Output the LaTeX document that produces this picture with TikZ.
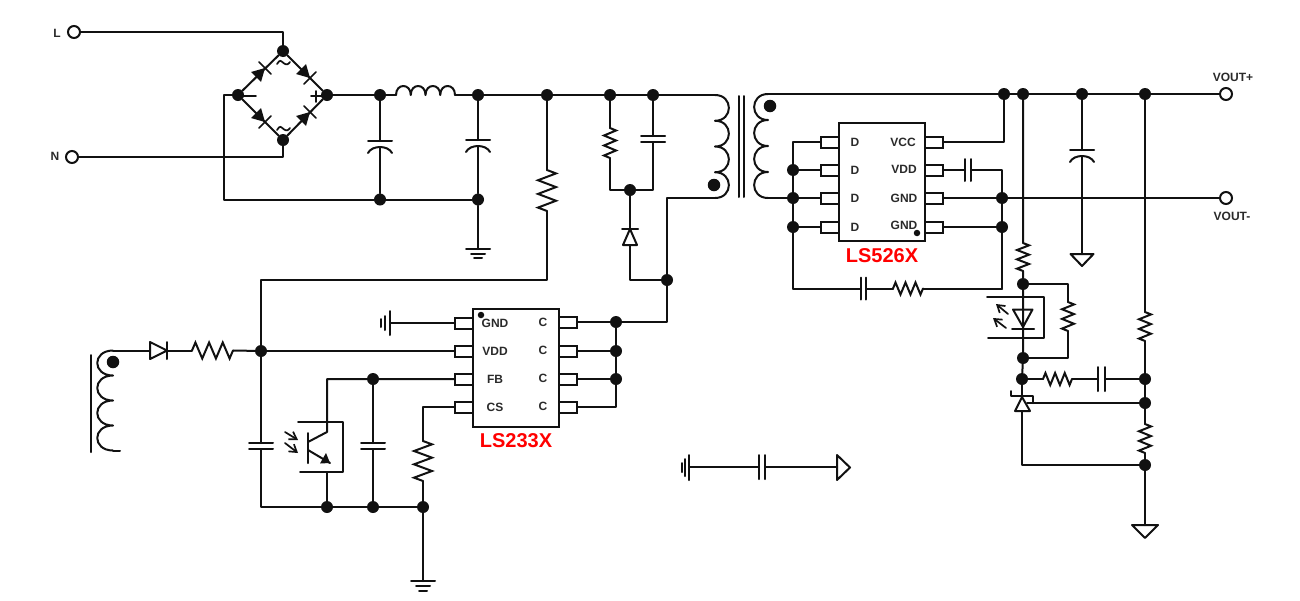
\documentclass[tikz,border=0pt]{standalone}
\usepackage{fontspec}
\setmainfont{Liberation Sans}
\usetikzlibrary{calc,arrows.meta}
\definecolor{ink}{HTML}{111111}
\definecolor{lbl}{HTML}{2A2A2A}
\tikzset{
  wire/.style={draw=ink,line width=2pt,line cap=round,line join=round},
  thin wire/.style={draw=ink,line width=1.7pt,line cap=round},
  jn/.style={circle,fill=ink,draw=none,inner sep=0pt,minimum size=12pt},
  mark dot/.style={circle,fill=ink,draw=none,inner sep=0pt,minimum size=12.5pt},
  small dot/.style={circle,fill=ink,draw=none,inner sep=0pt,minimum size=6.5pt},
  term/.style={circle,draw=ink,line width=2pt,fill=white,inner sep=0pt,minimum size=12pt},
  chip/.style={rectangle,draw=ink,line width=2pt,fill=white,inner sep=0pt,minimum width=86pt,minimum height=118pt},
  icpin/.style={rectangle,draw=ink,line width=2pt,fill=white,inner sep=0pt,minimum width=18pt,minimum height=11pt},
  pintext/.style={font=\bfseries\fontsize{12}{12}\selectfont,text=lbl,inner sep=0pt},
  partname/.style={font=\bfseries\fontsize{20}{20}\selectfont,text=red,inner sep=0pt},
  termtext/.style={font=\bfseries\fontsize{12}{12}\selectfont,text=lbl,inner sep=0pt},
  barb/.style={thin wire,-{Straight Barb[length=7pt,width=9pt]}},
}
% resistor between two named points
\newcommand\resis[3][9pt]{\draw[wire,line join=miter]
  (#2) -- ($(#2)!.0833!(#3)!#1!90:(#3)$) -- ($(#2)!.25!(#3)!-#1!90:(#3)$)
  -- ($(#2)!.4167!(#3)!#1!90:(#3)$) -- ($(#2)!.5833!(#3)!-#1!90:(#3)$)
  -- ($(#2)!.75!(#3)!#1!90:(#3)$) -- ($(#2)!.9167!(#3)!-#1!90:(#3)$) -- (#3);}
% plain capacitor between two named plate centres
\newcommand\capac[3][12pt]{\draw[wire]
  ($(#2)!#1!90:(#3)$) -- ($(#2)!#1!-90:(#3)$)
  ($(#3)!#1!90:(#2)$) -- ($(#3)!#1!-90:(#2)$);}
% polarised capacitor: flat plate at a, curved plate with its crown at b
\newcommand\polcap[2]{\draw[wire] (#1)++(-12,0) -- ++(24,0);
  \draw[wire] (#2)++(-12,6) .. controls +(4,-8) and +(-4,-8) .. ++(24,0);}
% four-hump winding
\newcommand\wind[5]{\draw[wire] (#1)
  .. controls +(#2,#3) and +(#2,#3) .. ++(#4,#5)
  .. controls +(#2,#3) and +(#2,#3) .. ++(#4,#5)
  .. controls +(#2,#3) and +(#2,#3) .. ++(#4,#5)
  .. controls +(#2,#3) and +(#2,#3) .. ++(#4,#5);}
% bridge diode
\newcommand\bdiode[4]{\begin{scope}[shift={(#1,#2)},xscale=#3,yscale=#4]
  \fill[ink] (5,5) -- (1,-9) -- (-9,1) -- cycle;
  \draw[thin wire] (11,-1) -- (-1,11);
\end{scope}}
\begin{document}
\begin{tikzpicture}[x=1pt,y=-1pt]
\useasboundingbox (0,0) rectangle (1300,600);
\fill[white] (0,0) rectangle (1300,600);

% ---------- input terminals and bridge ----------
\node[term] (tL) at (74,32) {};
\node[term] (tN) at (72,157) {};
\node[termtext] (lL) at (57,33) {L};
\node[termtext] (lN) at (55,156) {N};
\node[jn] (bT) at (283,51) {};
\node[jn] (bL) at (238,95) {};
\node[jn] (bR) at (327,95) {};
\node[jn] (bB) at (283,140) {};
\draw[wire] (tL) -| (bT);
\draw[wire] (tN) -| (bB);
\draw[wire] (bT) -- (bL) -- (bB) -- (bR) -- (bT);
\bdiode{260}{73}{1}{-1}
\bdiode{305}{73}{1}{1}
\bdiode{260}{117}{1}{1}
\bdiode{305}{117}{1}{-1}
\draw[thin wire] (277,64) .. controls (280,59) and (281,61) .. (283.5,63) .. controls (286,65) and (288,65) .. (290,62);
\draw[thin wire] (277,130) .. controls (280,125) and (281,127) .. (283.5,129) .. controls (286,131) and (288,131) .. (290,128);
\draw[thin wire] (243,96) -- (256,96);
\draw[thin wire] (311,96) -- (322,96) (316,91) -- (316,102);

% ---------- input filter ----------
\node[jn] (c1t) at (380,95) {};
\node[jn] (c1b) at (380,199.5) {};
\node[jn] (c2t) at (478,95) {};
\node[jn] (c2b) at (478,199.5) {};
\coordinate (gA) at (224,95);
\coordinate (gB) at (224,199.5);
\coordinate (indA) at (396,95);
\coordinate (indB) at (455,95);
\coordinate (c1p) at (380,141);
\coordinate (c1q) at (380,147);
\coordinate (c2p) at (478,140);
\coordinate (c2q) at (478,146);
\coordinate (g1) at (478,249);
\draw[wire] (bR) -- (c1t) -- (indA);
\wind{indA}{0}{-12}{14.75}{0}
\draw[wire] (indB) -- (c2t);
\draw[wire] (bL) -- (gA) -- (gB) -- (c1b) -- (c2b);
\draw[wire] (c1t) -- (c1p) (c1q) -- (c1b);
\polcap{c1p}{c1q}
\draw[wire] (c2t) -- (c2p) (c2q) -- (c2b) -- (g1);
\polcap{c2p}{c2q}
\draw[wire] (g1)++(-12,0) -- ++(24,0) (g1)++(-7,4.5) -- ++(14,0) (g1)++(-4,9) -- ++(8,0);

% ---------- bus, snubber ----------
\node[jn] (r1t) at (547,95) {};
\node[jn] (s1) at (610,95) {};
\node[jn] (s2) at (653,95) {};
\coordinate (pTop) at (715,95);
\coordinate (pBot) at (715,198);
\draw[wire] (c2t) -- (r1t) -- (s1) -- (s2) -- (pTop);
\wind{pTop}{18.5}{0}{0}{25.75}
\node[mark dot] (pDot) at (714,185) {};
\draw[wire] (739,96) -- (739,197) (744,96) -- (744,197);
\coordinate (r1a) at (547,170);
\coordinate (r1b) at (547,211);
\resis{r1a}{r1b}
\coordinate (r1c) at (547,280);
\node[jn] (vN) at (261,351) {};
\coordinate (vT) at (261,280);
\draw[wire] (r1t) -- (r1a) (r1b) -- (r1c) -- (vT) -- (vN);

\coordinate (r2a) at (610,128);
\coordinate (r2b) at (610,158);
\coordinate (c3a) at (653,136);
\coordinate (c3b) at (653,142);
\node[jn] (sj) at (630,190) {};
\coordinate (sL) at (610,190);
\coordinate (sR) at (653,190);
\resis[6pt]{r2a}{r2b}
\capac{c3a}{c3b}
\draw[wire] (s1) -- (r2a) (r2b) -- (sL) -- (sj) -- (sR) -- (c3b) (c3a) -- (s2);
\coordinate (d1k) at (630,229);
\coordinate (d1a) at (630,245);
\node[jn] (dj) at (667,280) {};
\coordinate (dC) at (630,280);
\draw[wire] (sj) -- (d1k);
\draw[wire] (d1k)++(-8,0) -- ++(16,0);
\draw[wire] (d1k) -- ++(-7,16) -- ++(14,0) -- cycle;
\draw[wire] (d1a) -- (dC) -- (dj);
\coordinate (pK) at (667,198);
\draw[wire] (pBot) -- (pK) -- (dj);

% ---------- LS233X ----------
\node[chip] (u1) at (516,368) {};
\node[icpin] (u1a) at (464,323) {};
\node[icpin] (u1b) at (464,351) {};
\node[icpin] (u1c) at (464,379) {};
\node[icpin] (u1d) at (464,407) {};
\node[icpin] (u1e) at (568,322) {};
\node[icpin] (u1f) at (568,351) {};
\node[icpin] (u1g) at (568,379) {};
\node[icpin] (u1h) at (568,407) {};
\node[pintext] (t1a) at (495,323) {GND};
\node[pintext] (t1b) at (495,351) {VDD};
\node[pintext] (t1c) at (495,379) {FB};
\node[pintext] (t1d) at (495,407) {CS};
\node[pintext] (t1e) at (543,322) {C};
\node[pintext] (t1f) at (543,350) {C};
\node[pintext] (t1g) at (543,378) {C};
\node[pintext] (t1h) at (543,406) {C};
\node[small dot] (u1dot) at (481,315) {};
\node[partname] (n1) at (516,441) {LS233X};
\node[jn] (ce) at (616,322) {};
\node[jn] (cf) at (616,351) {};
\node[jn] (cg) at (616,379) {};
\coordinate (ch) at (616,407);
\coordinate (cX) at (667,322);
\draw[wire] (u1e.east) -- (ce) -- (cX) -- (dj);
\draw[wire] (u1f.east) -- (cf);
\draw[wire] (u1g.east) -- (cg);
\draw[wire] (u1h.east) -- (ch) -- (cg) -- (cf) -- (ce);
\coordinate (g2) at (390,323);
\draw[wire] (u1a.west) -- (g2);
\draw[wire] (g2)++(0,-12) -- ++(0,24) (g2)++(-5,-7) -- ++(0,14) (g2)++(-9,-4) -- ++(0,8);
\draw[wire] (u1b.west) -- (vN);

% ---------- auxiliary winding ----------
\coordinate (aTop) at (113,350.5);
\coordinate (aBot) at (113,450.5);
\coordinate (aEnd) at (120,450.5);
\wind{aTop}{-21}{0}{0}{25}
\draw[wire] (aBot) -- (aEnd);
\draw[wire] (91,355) -- (91,452);
\node[mark dot] (aDot) at (113,362) {};
\coordinate (d2a) at (150,350.5);
\coordinate (d2k) at (167,350.5);
\coordinate (r3a) at (192,350.5);
\coordinate (r3b) at (233,350.5);
\draw[wire] (aTop) -- (d2a);
\draw[wire] (150,342) -- (150,359) -- (d2k) -- cycle;
\draw[wire] (d2k)++(0,-8.5) -- ++(0,17);
\draw[wire] (d2k) -- (r3a);
\resis[8pt]{r3a}{r3b}
\draw[wire] (r3b) -- (vN);

% ---------- primary feedback ----------
\coordinate (c4a) at (261,443);
\coordinate (c4b) at (261,449);
\node[jn] (b1) at (327,507) {};
\node[jn] (b2) at (373,507) {};
\node[jn] (b3) at (423,507) {};
\coordinate (bC) at (261,507);
\capac{c4a}{c4b}
\draw[wire] (vN) -- (c4a) (c4b) -- (bC) -- (b1) -- (b2) -- (b3);
\node[jn] (fb) at (373,379) {};
\coordinate (fbL) at (327,379);
\coordinate (cc) at (327,432);
\coordinate (qb) at (308,442);
\coordinate (qe) at (308,450);
\coordinate (qt) at (330,463);
\coordinate (c5a) at (373,443);
\coordinate (c5b) at (373,449);
\capac{c5a}{c5b}
\draw[wire] (u1c.west) -- (fb) -- (fbL) -- (cc) -- (qb);
\draw[wire] (fb) -- (c5a) (c5b) -- (b2);
\draw[wire] (308,433) -- (308,463);
\draw[wire] (qe) -- (qt);
\fill[ink] (qt) -- (320,463.5) -- (326,453) -- cycle;
\draw[wire] (298,422) -- (343,422) -- (343,472) -- (300,472);
\coordinate (qO) at (327,472);
\draw[wire] (qO) -- (b1);
\draw[barb] (285,432) -- (298,440);
\draw[barb] (285,443) -- (298,453);
\coordinate (csC) at (423,407);
\coordinate (r4a) at (423,441);
\coordinate (r4b) at (423,481);
\resis{r4a}{r4b}
\draw[wire] (u1d.west) -- (csC) -- (r4a) (r4b) -- (b3);
\coordinate (g3) at (423,581);
\draw[wire] (b3) -- (g3);
\draw[wire] (g3)++(-12,0) -- ++(24,0) (g3)++(-7,5) -- ++(14,0) (g3)++(-4,9.5) -- ++(8,0);

% ---------- secondary ----------
\coordinate (sTop) at (768,94);
\coordinate (sBot) at (768,198);
\wind{sTop}{-18.5}{0}{0}{26}
\node[mark dot] (sDot) at (770,106) {};
\node[jn] (o1) at (1004,94) {};
\node[jn] (o2) at (1023,94) {};
\node[jn] (o3) at (1082,94) {};
\node[jn] (o4) at (1145,94) {};
\node[term] (tP) at (1226,94) {};
\node[term] (tM) at (1226,198) {};
\node[termtext] (lP) at (1233,77) {VOUT+};
\node[termtext] (lM) at (1232,216) {VOUT-};
\draw[wire] (sTop) -- (o1) -- (o2) -- (o3) -- (o4) -- (tP);

% ---------- LS526X ----------
\node[chip] (u2) at (882,182) {};
\node[icpin] (u2a) at (830,142) {};
\node[icpin] (u2b) at (830,170) {};
\node[icpin] (u2c) at (830,198) {};
\node[icpin] (u2d) at (830,227) {};
\node[icpin] (u2e) at (934,142) {};
\node[icpin] (u2f) at (934,170) {};
\node[icpin] (u2g) at (934,198) {};
\node[icpin] (u2h) at (934,227) {};
\node[pintext] (t2a) at (855,142) {D};
\node[pintext] (t2b) at (855,170) {D};
\node[pintext] (t2c) at (855,198) {D};
\node[pintext] (t2d) at (855,227) {D};
\node[pintext] (t2e) at (903,142) {VCC};
\node[pintext] (t2f) at (904,169) {VDD};
\node[pintext] (t2g) at (904,198) {GND};
\node[pintext] (t2h) at (904,225) {GND};
\node[small dot] (u2dot) at (917,233) {};
\node[partname] (n2) at (882,256) {LS526X};
\node[jn] (db) at (793,170) {};
\node[jn] (dc) at (793,198) {};
\node[jn] (dd) at (793,227) {};
\node[jn] (gg) at (1002,198) {};
\node[jn] (gh) at (1002,227) {};
\coordinate (da) at (793,142);
\coordinate (dL) at (793,288.5);
\coordinate (gB2) at (1002,288.5);
\coordinate (vF) at (1002,170);
\coordinate (vcc) at (1004,142);
\draw[wire] (u2a.west) -- (da) -- (db) -- (dc) -- (dd) -- (dL);
\draw[wire] (u2b.west) -- (db);
\draw[wire] (u2c.west) -- (dc) -- (sBot);
\draw[wire] (u2d.west) -- (dd);
\draw[wire] (u2e.east) -- (vcc) -- (o1);
\coordinate (c6a) at (965,170);
\coordinate (c6b) at (971,170);
\capac[11pt]{c6a}{c6b}
\draw[wire] (u2f.east) -- (c6a) (c6b) -- (vF) -- (gg) -- (gh) -- (gB2);
\draw[wire] (u2g.east) -- (gg) -- (tM);
\draw[wire] (u2h.east) -- (gh);
\coordinate (c7a) at (861,288.5);
\coordinate (c7b) at (866,288.5);
\coordinate (r5a) at (893,288.5);
\coordinate (r5b) at (923,288.5);
\capac[11pt]{c7a}{c7b}
\resis[6pt]{r5a}{r5b}
\draw[wire] (dL) -- (c7a) (c7b) -- (r5a) (r5b) -- (gB2);

% ---------- output capacitor ----------
\coordinate (c8p) at (1082,150);
\coordinate (c8q) at (1082,156);
\coordinate (g4) at (1082,254);
\polcap{c8p}{c8q}
\draw[wire] (o3) -- (c8p) (c8q) -- (g4);
\draw[wire] (g4)++(-11.5,0) -- ++(23,0) -- ++(-11.5,12) -- cycle;

% ---------- secondary feedback ----------
\coordinate (r6a) at (1023,243);
\coordinate (r6b) at (1023,271);
\node[jn] (f1) at (1023,284) {};
\node[jn] (f2) at (1023,358) {};
\node[jn] (f3) at (1022,379) {};
\resis[6pt]{r6a}{r6b}
\draw[wire] (o2) -- (r6a) (r6b) -- (f1) -- (f2) -- (f3);
\draw[wire] (1013,309.5) -- (1032.5,309.5) -- (1023,327) -- cycle;
\draw[wire] (1012,328.5) -- (1034,328.5);
\draw[wire] (987,297) -- (1044,297) -- (1044,338) -- (988,338);
\draw[barb] (1008,314) -- (996,304);
\draw[barb] (1006,328) -- (993,318);
\coordinate (f1R) at (1068,284);
\coordinate (r7a) at (1068,302);
\coordinate (r7b) at (1068,331);
\coordinate (f2R) at (1068,358);
\resis[6pt]{r7a}{r7b}
\draw[wire] (f1) -- (f1R) -- (r7a) (r7b) -- (f2R) -- (f2);
\node[jn] (h1) at (1145,379) {};
\node[jn] (h2) at (1145,403) {};
\node[jn] (h3) at (1145,465) {};
\coordinate (r8a) at (1145,312);
\coordinate (r8b) at (1145,341);
\coordinate (r9a) at (1145,424);
\coordinate (r9b) at (1145,453);
\resis[6pt]{r8a}{r8b}
\resis[6pt]{r9a}{r9b}
\coordinate (g5) at (1145,525);
\draw[wire] (o4) -- (r8a) (r8b) -- (h1) -- (h2) -- (r9a) (r9b) -- (h3) -- (g5);
\draw[wire] (g5)++(-13,0) -- ++(26,0) -- ++(-13,13) -- cycle;
\coordinate (r10a) at (1043,379);
\coordinate (r10b) at (1072,379);
\coordinate (c9a) at (1098,379);
\coordinate (c9b) at (1105,379);
\resis[6pt]{r10a}{r10b}
\capac{c9a}{c9b}
\draw[wire] (f3) -- (r10a) (r10b) -- (c9a) (c9b) -- (h1);
\coordinate (zk) at (1022,397);
\coordinate (za) at (1022,411);
\coordinate (zr) at (1033,403);
\coordinate (zb) at (1022,465);
\draw[wire] (f3) -- (zk);
\draw[wire] (1011,391) -- (1011,396) -- (1033,396) -- (zr);
\draw[wire] (zk) -- (1015,411) -- (1030,411) -- cycle;
\draw[wire] (1027,403) -- (zr) -- (h2);
\draw[wire] (za) -- (zb) -- (h3);

% ---------- legend symbol ----------
\coordinate (g6) at (689,467);
\coordinate (c10a) at (759,467);
\coordinate (c10b) at (765,467);
\coordinate (g7) at (837,467);
\draw[wire] (g6)++(0,-12) -- ++(0,25) (g6)++(-4,-8) -- ++(0,17) (g6)++(-7,-4) -- ++(0,9);
\capac{c10a}{c10b}
\draw[wire] (g6) -- (c10a) (c10b) -- (g7);
\draw[wire] (g7)++(0,-12) -- ++(0,25) -- ++(13,-12.5) -- cycle;
\end{tikzpicture}
\end{document}
